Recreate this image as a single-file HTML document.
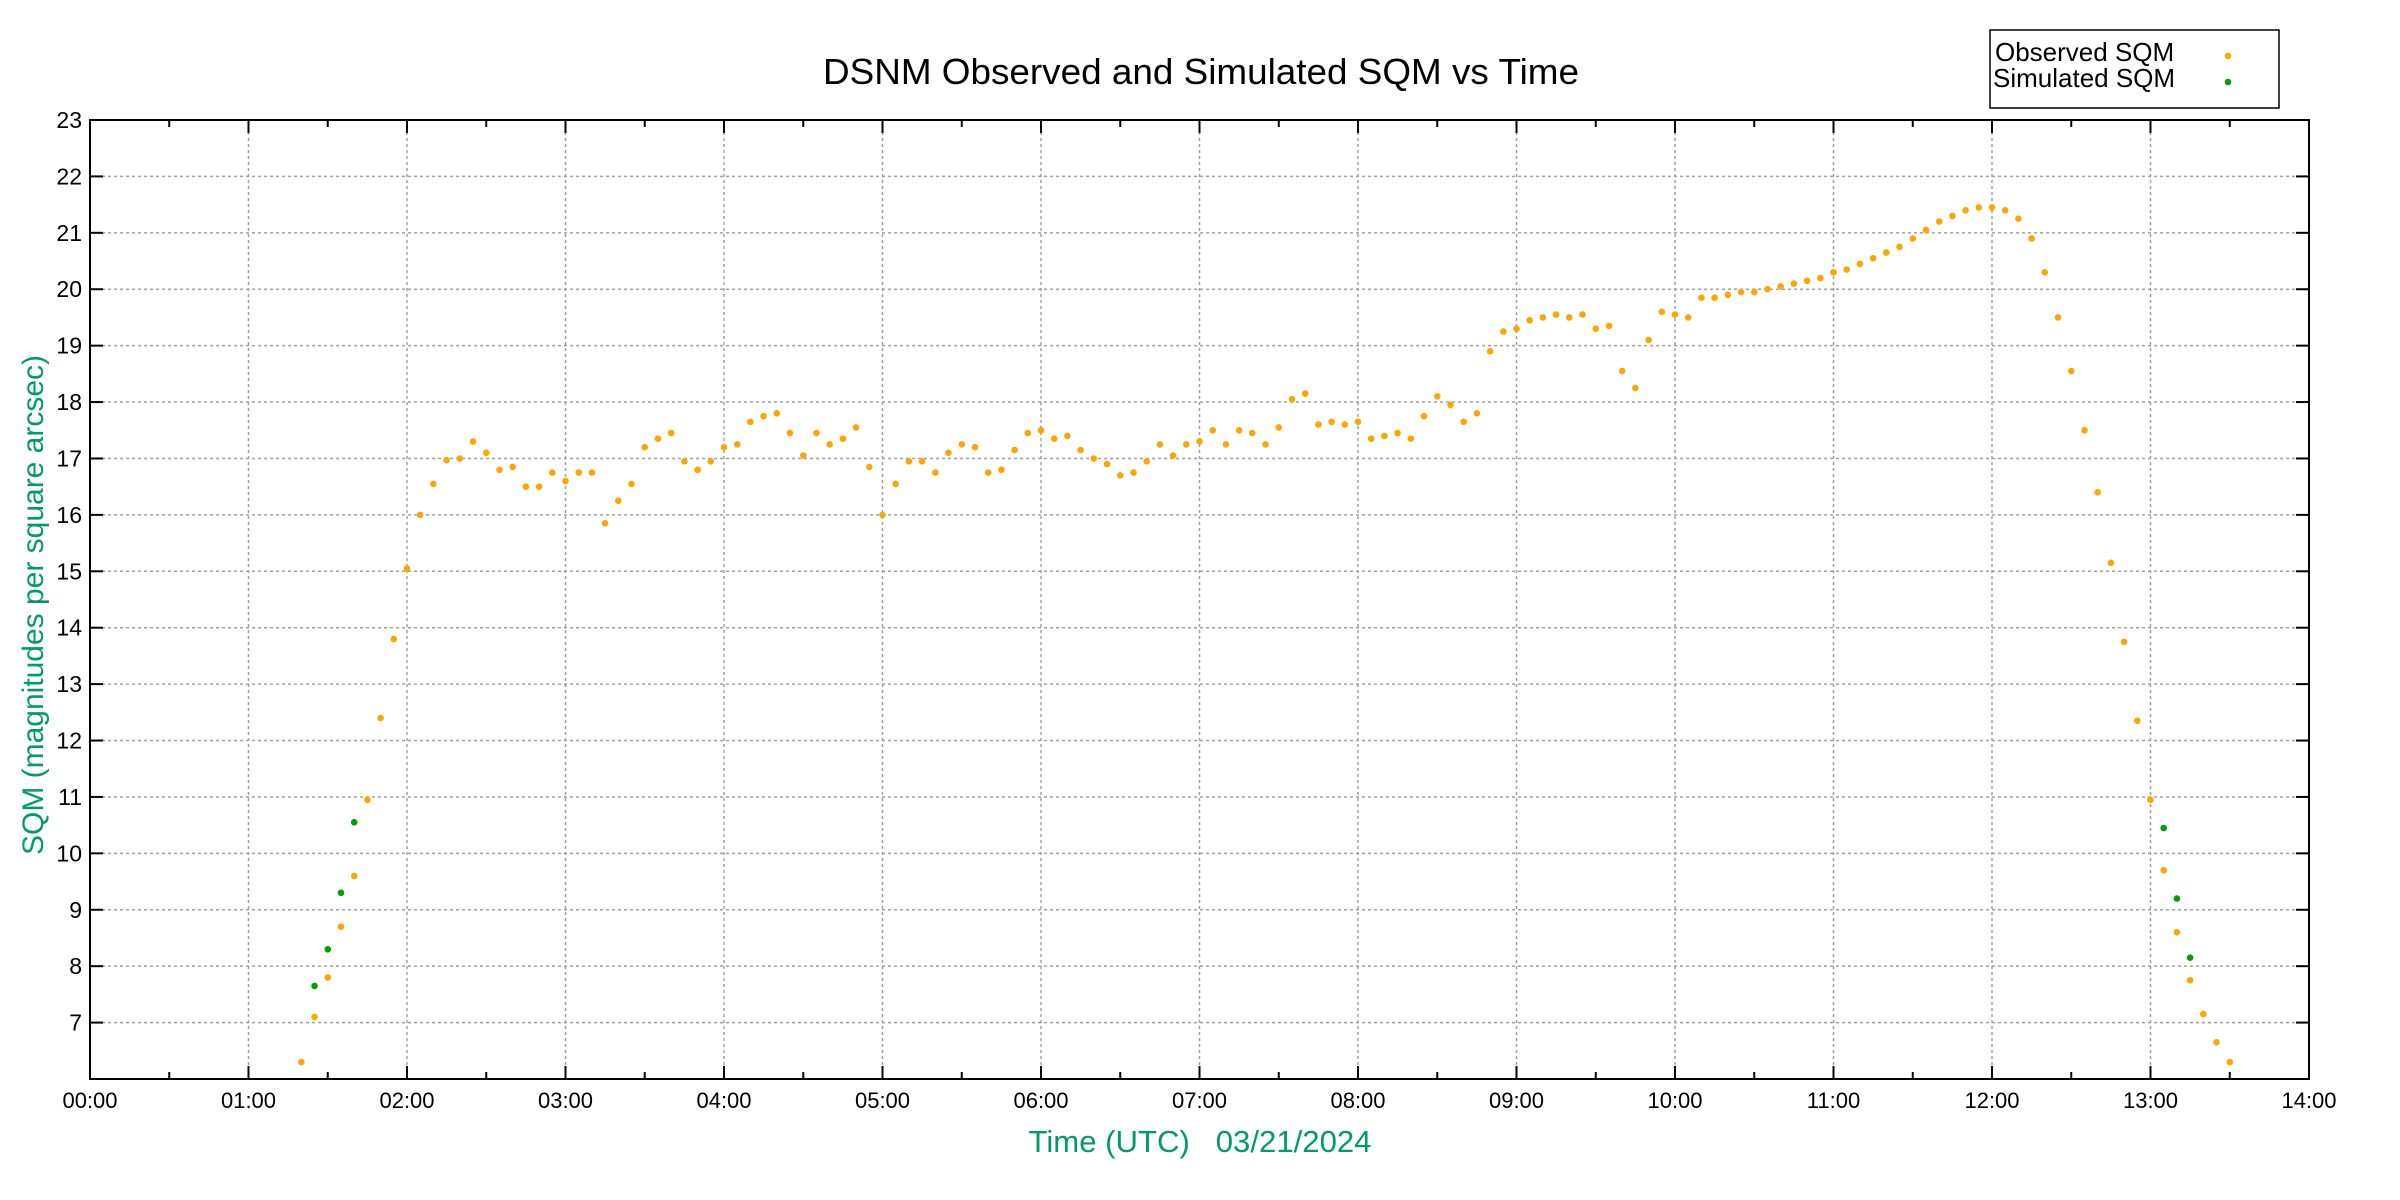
<!DOCTYPE html>
<html><head><meta charset="utf-8"><style>
html,body{margin:0;padding:0;background:#fff;}
svg{display:block;font-family:"Liberation Sans",sans-serif;}
</style></head><body>
<svg id="c" width="2400" height="1200" viewBox="0 0 2400 1200" xmlns="http://www.w3.org/2000/svg">
<rect width="2400" height="1200" fill="#fff"/>
<g id="grid" stroke="#a0a0a0" stroke-width="1.5" stroke-dasharray="3,3"></g>
<g id="ticks" stroke="#000" stroke-width="2"></g>
<g id="labels" font-size="22" fill="#000"></g>
<g id="pts"></g>
<rect x="90" y="120" width="2219" height="959" fill="none" stroke="#000" stroke-width="2"/>
<text x="1201" y="84" font-size="36" text-anchor="middle" fill="#000" textLength="756" lengthAdjust="spacingAndGlyphs">DSNM Observed and Simulated SQM vs Time</text>
<text transform="translate(43,605) rotate(-90)" font-size="30" text-anchor="middle" fill="#009a6e" textLength="500" lengthAdjust="spacingAndGlyphs">SQM (magnitudes per square arcsec)</text>
<text x="1200" y="1152" font-size="31" text-anchor="middle" fill="#009a6e" xml:space="preserve" textLength="343" lengthAdjust="spacingAndGlyphs">Time (UTC)   03/21/2024</text>
<rect x="1990" y="30" width="289" height="78" fill="#fff" stroke="#000" stroke-width="1.5"/>
<text x="1995" y="61" font-size="26" fill="#000">Observed SQM</text>
<text x="1993" y="87" font-size="26" fill="#000">Simulated SQM</text>
<circle cx="2228" cy="56" r="3.3" fill="#ffa500"/>
<circle cx="2228" cy="82" r="3.3" fill="#00a000"/>
</svg>
<script>
var NS="http://www.w3.org/2000/svg";
function el(p,t,a,txt){var e=document.createElementNS(NS,t);for(var k in a)e.setAttribute(k,a[k]);if(txt!=null)e.textContent=txt;document.getElementById(p).appendChild(e);}
var L=90,R=2309,T=120,B=1079;
function X(h){return L+(R-L)*h/14;}
function Y(v){return B-(B-T)*(v-6)/17;}
for(var h=0;h<=14;h++){var x=X(h);
 if(h>0&&h<14)el("grid","line",{x1:x,y1:T,x2:x,y2:B});
 el("ticks","line",{x1:x,y1:B,x2:x,y2:B-13});el("ticks","line",{x1:x,y1:T,x2:x,y2:T+13});
 el("labels","text",{x:x,y:B+29,"text-anchor":"middle"},(h<10?"0":"")+h+":00");
 if(h<14){var xm=X(h+0.5);el("ticks","line",{x1:xm,y1:B,x2:xm,y2:B-7});el("ticks","line",{x1:xm,y1:T,x2:xm,y2:T+7});}
}
for(var v=7;v<=23;v++){var y=Y(v);
 if(v<23)el("grid","line",{x1:L,y1:y,x2:R,y2:y});
 el("ticks","line",{x1:L,y1:y,x2:L+13,y2:y});el("ticks","line",{x1:R,y1:y,x2:R-13,y2:y});
 el("labels","text",{x:L-8,y:y+8,"text-anchor":"end","font-size":"23"},""+v);
}
var obs=[6.3,7.1,7.8,8.7,9.6,10.95,12.4,13.8,15.05,
16.0,16.55,16.97,17.0,17.3,17.1,16.8,16.85,16.5,16.5,16.75,
16.6,16.75,16.75,15.85,16.25,16.55,17.2,17.35,17.45,16.95,16.8,16.95,
17.2,17.25,17.65,17.75,17.8,17.45,17.05,17.45,17.25,17.35,17.55,16.85,
16.0,16.55,16.95,16.95,16.75,17.1,17.25,17.2,16.75,16.8,17.15,17.45,
17.5,17.35,17.4,17.15,17.0,16.9,16.7,16.75,16.95,17.25,17.05,17.25,
17.3,17.5,17.25,17.5,17.45,17.25,17.55,18.05,18.15,17.6,17.65,17.6,
17.65,17.35,17.4,17.45,17.35,17.75,18.1,17.95,17.65,17.8,18.9,19.25,
19.3,19.45,19.5,19.55,19.5,19.55,19.3,19.35,18.55,18.25,19.1,19.6,
19.55,19.5,19.85,19.85,19.9,19.95,19.95,20.0,20.05,20.1,20.15,20.2,
20.3,20.35,20.45,20.55,20.65,20.75,20.9,21.05,21.2,21.3,21.4,21.45,
21.45,21.4,21.25,20.9,20.3,19.5,18.55,17.5,16.4,15.15,13.75,12.35,
10.95,9.7,8.6,7.75,7.15,6.65,6.3];
for(var i=0;i<obs.length;i++){var t=1+20/60+i*5/60;el("pts","circle",{cx:X(t).toFixed(1),cy:Y(obs[i]).toFixed(1),r:3.3,fill:"#ffa500"});}
var sim=[[1+25/60,7.65],[1.5,8.3],[1+35/60,9.3],[1+40/60,10.55],[13+5/60,10.45],[13+10/60,9.2],[13.25,8.15]];
sim.forEach(function(p){el("pts","circle",{cx:X(p[0]).toFixed(1),cy:Y(p[1]).toFixed(1),r:3.3,fill:"#00a000"});});
</script>
</body></html>
